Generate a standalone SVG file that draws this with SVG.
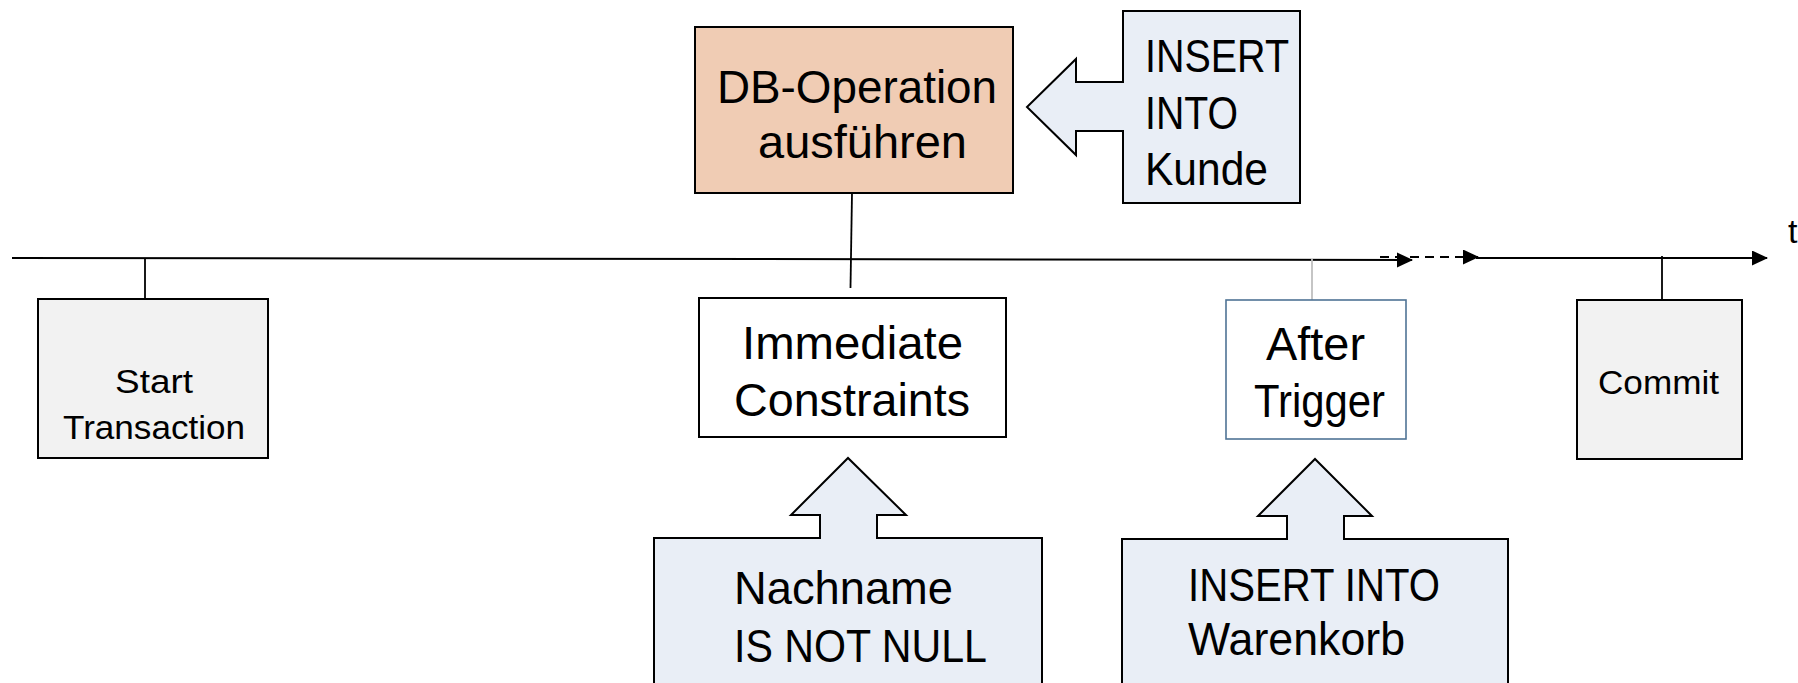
<svg xmlns="http://www.w3.org/2000/svg" width="1798" height="683" viewBox="0 0 1798 683">
  <style>
    .lbl { font-family: "Liberation Sans", Arial, sans-serif; fill: #000; }
    .big { font-size: 46px; }
    .small { font-size: 34px; }
    .box { stroke: #000; stroke-width: 2; }
    .grey { fill: #F2F2F2; }
    .note { fill: #E9EEF6; stroke: #000; stroke-width: 2; stroke-linejoin: miter; }
    .axis { stroke: #000; stroke-width: 2; fill: none; }
    .tick { stroke: #000; stroke-width: 1.8; fill: none; }
  </style>
  <defs>
    <marker id="arrowhead" markerUnits="userSpaceOnUse" markerWidth="16" markerHeight="16" refX="15" refY="7.5" orient="auto">
      <path d="M0,0 L16,7.5 L0,15 Z" fill="#000"/>
    </marker>
  </defs>

  <rect width="1798" height="683" fill="#fff"/>

  <!-- time axis and the ticks that hang the event boxes on it -->
  <g id="connectors">
    <line class="axis" x1="12" y1="258" x2="1412" y2="260" marker-end="url(#arrowhead)"/>
    <line class="axis" x1="1380" y1="257" x2="1478" y2="257" stroke-dasharray="9,6" marker-end="url(#arrowhead)"/>
    <line class="axis" x1="1476" y1="258" x2="1767" y2="258" marker-end="url(#arrowhead)"/>
    <line class="tick" x1="145" y1="258" x2="145" y2="299"/>
    <line class="tick" x1="852" y1="193" x2="850.5" y2="288"/>
    <line x1="1312" y1="259" x2="1312" y2="300" stroke="#BFBFBF" stroke-width="1.8"/>
    <line class="tick" x1="1662" y1="256" x2="1662" y2="300"/>
  </g>

  <text class="lbl small" x="1788" y="243">t</text>

  <g id="start-transaction">
    <rect class="box grey" x="38" y="299" width="230" height="159"/>
    <text class="lbl small" x="115" y="393" textLength="78" lengthAdjust="spacingAndGlyphs">Start</text>
    <text class="lbl small" x="63" y="439" textLength="182" lengthAdjust="spacingAndGlyphs">Transaction</text>
  </g>

  <g id="db-operation">
    <rect class="box" x="695" y="27" width="318" height="166" fill="#F0CCB4"/>
    <text class="lbl big" x="717" y="103" textLength="280" lengthAdjust="spacingAndGlyphs">DB-Operation</text>
    <text class="lbl big" x="758" y="158" textLength="209" lengthAdjust="spacingAndGlyphs">ausführen</text>
  </g>

  <g id="insert-kunde">
    <polygon class="note" points="1123,11 1300,11 1300,203 1123,203 1123,131 1076,131 1076,155 1027,107 1076,59 1076,82 1123,82"/>
    <text class="lbl big" x="1145" y="72" textLength="144" lengthAdjust="spacingAndGlyphs">INSERT</text>
    <text class="lbl big" x="1145" y="129" textLength="93" lengthAdjust="spacingAndGlyphs">INTO</text>
    <text class="lbl big" x="1145" y="185" textLength="123" lengthAdjust="spacingAndGlyphs">Kunde</text>
  </g>

  <g id="immediate-constraints">
    <rect class="box" x="699" y="298" width="307" height="139" fill="#fff"/>
    <text class="lbl big" x="742" y="359" textLength="221" lengthAdjust="spacingAndGlyphs">Immediate</text>
    <text class="lbl big" x="734" y="416" textLength="236" lengthAdjust="spacingAndGlyphs">Constraints</text>
  </g>

  <g id="after-trigger">
    <rect x="1226" y="300" width="180" height="139" fill="#fff" stroke="#4F7395" stroke-width="1.6"/>
    <text class="lbl big" x="1266" y="360" textLength="99" lengthAdjust="spacingAndGlyphs">After</text>
    <text class="lbl big" x="1254" y="417" textLength="131" lengthAdjust="spacingAndGlyphs">Trigger</text>
  </g>

  <g id="commit">
    <rect class="box grey" x="1577" y="300" width="165" height="159"/>
    <text class="lbl small" x="1598" y="394" textLength="121" lengthAdjust="spacingAndGlyphs">Commit</text>
  </g>

  <g id="nachname-not-null">
    <polygon class="note" points="654,538 820,538 820,515 791,515 848,458 906,515 877,515 877,538 1042,538 1042,700 654,700"/>
    <text class="lbl big" x="734" y="604" textLength="219" lengthAdjust="spacingAndGlyphs">Nachname</text>
    <text class="lbl big" x="734" y="662" textLength="253" lengthAdjust="spacingAndGlyphs">IS NOT NULL</text>
  </g>

  <g id="insert-warenkorb">
    <polygon class="note" points="1122,539 1287,539 1287,516 1258,516 1315,459 1372,516 1344,516 1344,539 1508,539 1508,700 1122,700"/>
    <text class="lbl big" x="1188" y="601" textLength="252" lengthAdjust="spacingAndGlyphs">INSERT INTO</text>
    <text class="lbl big" x="1188" y="655" textLength="217" lengthAdjust="spacingAndGlyphs">Warenkorb</text>
  </g>
</svg>
